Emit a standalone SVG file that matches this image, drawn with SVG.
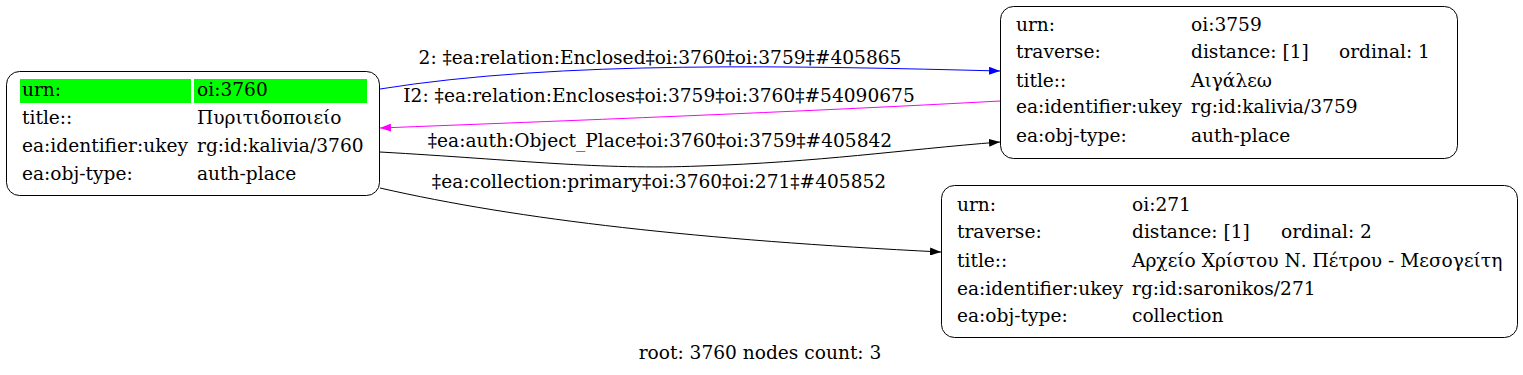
<svg xmlns="http://www.w3.org/2000/svg" width="1523" height="375" viewBox="0 0 1523 375">
<style>
text{font-family:"DejaVu Serif",serif;font-size:18.6px;fill:#000}
.box{fill:#fff;stroke:#000;stroke-width:1}
.e{fill:none;stroke-width:1}
.lbl{text-anchor:middle}
</style>
<defs>
<marker id="ab" markerWidth="11" markerHeight="8" refX="11" refY="4" orient="auto" markerUnits="userSpaceOnUse"><path d="M0,0L11,4L0,8z" fill="#0000ff"/></marker>
<marker id="am" markerWidth="11" markerHeight="8" refX="11" refY="4" orient="auto" markerUnits="userSpaceOnUse"><path d="M0,0L11,4L0,8z" fill="#ff00ff"/></marker>
<marker id="ak" markerWidth="11" markerHeight="8" refX="11" refY="4" orient="auto" markerUnits="userSpaceOnUse"><path d="M0,0L11,4L0,8z" fill="#000"/></marker>
</defs>
<rect width="1523" height="375" fill="#fff"/>
<g id="connectors">
<path class="e" stroke="#0000ff" d="M380,89 C560,60 800,66 1000,71" marker-end="url(#ab)"/>
<text class="lbl" x="660" y="64">2: ‡ea:relation:Enclosed‡oi:3760‡oi:3759‡#405865</text>
<path class="e" stroke="#ff00ff" d="M1000,101 C800,112 560,121 380,128" marker-end="url(#am)"/>
<text class="lbl" x="659" y="102">I2: ‡ea:relation:Encloses‡oi:3759‡oi:3760‡#54090675</text>
<path class="e" stroke="#000" d="M380,152 C520,160 600,170 700,166 C820,162 900,150 1000,142" marker-end="url(#ak)"/>
<text class="lbl" x="660" y="147">‡ea:auth:Object_Place‡oi:3760‡oi:3759‡#405842</text>
<path class="e" stroke="#000" d="M380,188 C520,220 700,240 941,252" marker-end="url(#ak)"/>
<text class="lbl" x="659" y="188">‡ea:collection:primary‡oi:3760‡oi:271‡#405852</text>
</g>
<g id="node3760">
<rect class="box" x="6.5" y="71.5" width="373" height="124" rx="13"/>
<rect x="20" y="79" width="171" height="24" fill="#00ff00"/>
<rect x="194" y="79" width="173" height="24" fill="#00ff00"/>
<text x="22" y="96">urn:</text><text x="197" y="96">oi:3760</text>
<text x="22" y="124">title::</text><text x="197" y="124">Πυριτιδοποιείο</text>
<text x="22" y="152">ea:identifier:ukey</text><text x="197" y="152">rg:id:kalivia/3760</text>
<text x="22" y="180">ea:obj-type:</text><text x="197" y="180">auth-place</text>
</g>
<g id="node3759">
<rect class="box" x="1000.5" y="6.5" width="457" height="152" rx="13"/>
<text x="1016" y="31">urn:</text><text x="1191" y="31">oi:3759</text>
<text x="1016" y="58">traverse:</text><text x="1191" y="58">distance: [1]</text><text x="1339" y="58">ordinal: 1</text>
<text x="1016" y="87">title::</text><text x="1191" y="87">Αιγάλεω</text>
<text x="1016" y="113">ea:identifier:ukey</text><text x="1191" y="113">rg:id:kalivia/3759</text>
<text x="1016" y="142">ea:obj-type:</text><text x="1191" y="142">auth-place</text>
</g>
<g id="node271">
<rect class="box" x="941.5" y="185.5" width="576" height="152" rx="13"/>
<text x="957" y="211">urn:</text><text x="1132" y="211">oi:271</text>
<text x="957" y="238">traverse:</text><text x="1132" y="238">distance: [1]</text><text x="1281" y="238">ordinal: 2</text>
<text x="957" y="267">title::</text><text x="1132" y="267">Αρχείο Χρίστου Ν. Πέτρου - Μεσογείτη</text>
<text x="957" y="295">ea:identifier:ukey</text><text x="1132" y="295">rg:id:saronikos/271</text>
<text x="957" y="322">ea:obj-type:</text><text x="1132" y="322">collection</text>
</g>
<text class="lbl" x="760" y="359">root: 3760 nodes count: 3</text>
</svg>
